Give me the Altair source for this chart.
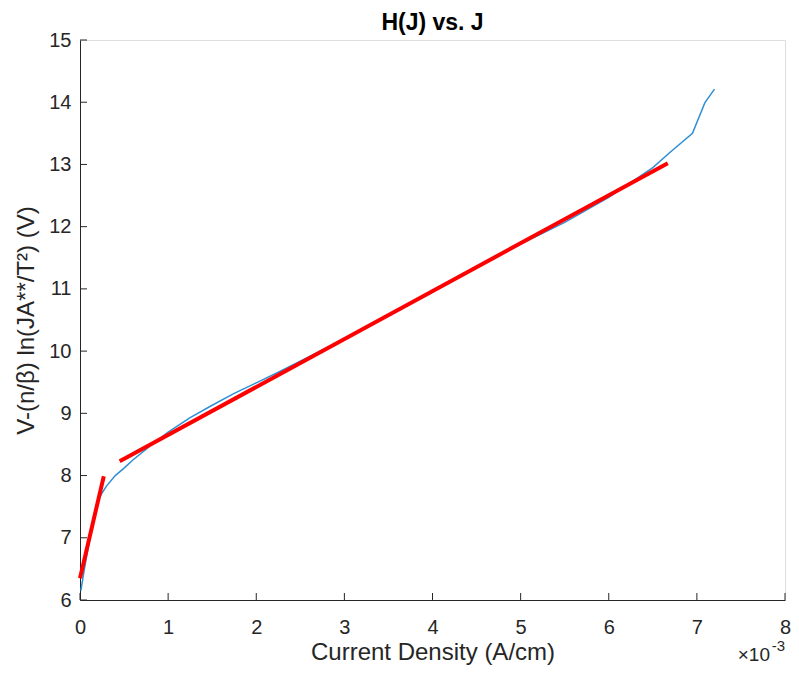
import altair as alt
import pandas as pd

# Measured curve H(J) vs J (J in units of 1e-3 A/cm)
curve_x = [0.01, 0.05, 0.10, 0.15, 0.20, 0.25, 0.30, 0.40, 0.50, 0.60, 0.80, 1.00,
           1.25, 1.50, 1.75, 2.00, 2.25, 2.50, 3.00, 3.50, 4.00, 4.50, 5.00, 5.50,
           6.00, 6.50, 6.70, 6.95, 7.09, 7.20]
curve_y = [6.15, 6.50, 6.90, 7.30, 7.58, 7.72, 7.83, 8.00, 8.12, 8.25, 8.48, 8.70,
           8.93, 9.13, 9.32, 9.49, 9.66, 9.84, 10.20, 10.57, 10.95, 11.35, 11.72, 12.07,
           12.47, 12.95, 13.20, 13.50, 13.99, 14.21]

# Linear fits (red)
fit1_x = [0.00, 0.27]
fit1_y = [6.35, 7.99]
fit2_x = [0.45, 6.67]
fit2_y = [8.23, 13.02]

x_ticks = [0, 1, 2, 3, 4, 5, 6, 7, 8]
y_ticks = [6, 7, 8, 9, 10, 11, 12, 13, 14, 15]

W, H = 705, 560
AX = "#262626"
FONT = "Liberation Sans"

curve = pd.DataFrame({"x": curve_x, "y": curve_y})
fits = pd.DataFrame({
    "x": fit1_x + fit2_x,
    "y": fit1_y + fit2_y,
    "fit": ["a"] * len(fit1_x) + ["b"] * len(fit2_x),
})
xt = pd.DataFrame({"t": x_ticks})
yt = pd.DataFrame({"t": y_ticks})

xscale = alt.Scale(domain=[0, 8], nice=False, zero=False)
yscale = alt.Scale(domain=[6, 15], nice=False, zero=False)

xaxis = alt.Axis(values=x_ticks, format="d", title="Current Density (A/cm)", tickSize=0,
                 labelPadding=17, labelFontSize=20, titleFontSize=24, titleFontWeight="normal",
                 titlePadding=22, titleBaseline="alphabetic",
                 domainColor=AX, labelColor=AX, titleColor=AX, labelFlush=False,
                 labelFont=FONT, titleFont=FONT, grid=False, domainWidth=1)
yaxis = alt.Axis(values=y_ticks, format="d", title="V-(n/β) ln(JA**/T²) (V)", tickSize=0,
                 labelPadding=9, labelFontSize=20, titleFontSize=24, titleFontWeight="normal",
                 titlePadding=10, domainColor=AX, labelColor=AX, titleColor=AX, labelFlush=False,
                 labelFont=FONT, titleFont=FONT, grid=False, domainWidth=1)

line = alt.Chart(curve).mark_line(color="#2f8fd4", strokeWidth=1.5).encode(
    x=alt.X("x:Q", scale=xscale, axis=xaxis),
    y=alt.Y("y:Q", scale=yscale, axis=yaxis),
    order="x:Q",
)

fit_lines = alt.Chart(fits).mark_line(color="#ff0000", strokeWidth=4).encode(
    x=alt.X("x:Q", scale=xscale),
    y=alt.Y("y:Q", scale=yscale),
    detail="fit:N",
)

xticks = alt.Chart(xt).mark_rule(color=AX, strokeWidth=1).encode(
    x=alt.X("t:Q", scale=xscale),
    y=alt.value(H),
    y2=alt.value(H - 7),
)
yticks = alt.Chart(yt).mark_rule(color=AX, strokeWidth=1).encode(
    y=alt.Y("t:Q", scale=yscale),
    x=alt.value(0),
    x2=alt.value(7),
)

exp_main = alt.Chart(pd.DataFrame({"s": ["×10"]})).mark_text(
    align="right", baseline="alphabetic", fontSize=19, font=FONT, color=AX
).encode(text="s:N", x=alt.value(W - 15), y=alt.value(621))
exp_sup = alt.Chart(pd.DataFrame({"s": ["-3"]})).mark_text(
    align="right", baseline="alphabetic", fontSize=15, font=FONT, color=AX
).encode(text="s:N", x=alt.value(W), y=alt.value(611))

chart = alt.layer(line, fit_lines, xticks, yticks, exp_main, exp_sup).properties(
    width=W, height=H,
    title=alt.TitleParams("H(J) vs. J", fontSize=23, fontWeight="bold", font=FONT,
                          color="#000000", anchor="middle", offset=0, dy=5),
    autosize=alt.AutoSizeParams(type="none"),
    padding={"left": 72, "top": 32, "right": 6, "bottom": 65},
).configure_view(stroke=None).configure(background="white")

chart.save("out.html", embed_options={"renderer": "svg", "actions": False})
